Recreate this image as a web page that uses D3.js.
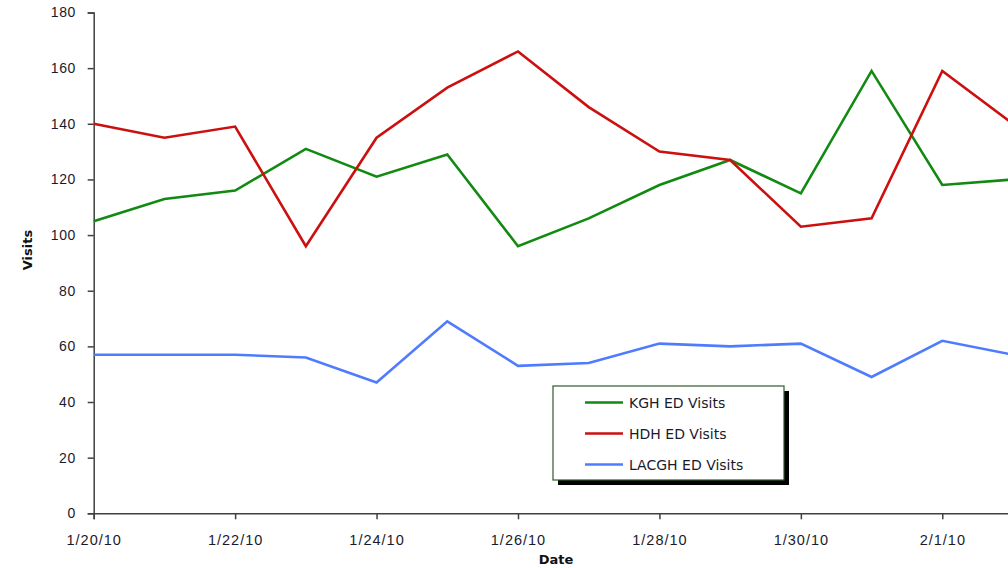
<!DOCTYPE html>
<html>
<head>
<meta charset="utf-8">
<script src="https://cdn.jsdelivr.net/npm/d3@7"></script>
<style>
  body { margin: 0; background: #fff; }
  svg { display: block; font-family: "DejaVu Sans", Verdana, sans-serif; }
  .axis path, .axis line { stroke: #404040; stroke-width: 1.5; }
  .axis text { fill: #1a1a2e; }
</style>
</head>
<body>
<div id="chart"></div>
<script>
// chart values
const dates = ["2010-01-20", "2010-01-21", "2010-01-22", "2010-01-23", "2010-01-24", "2010-01-25", "2010-01-26",
               "2010-01-27", "2010-01-28", "2010-01-29", "2010-01-30", "2010-01-31", "2010-02-01", "2010-02-02"];
const kghVisits   = [105, 113, 116, 131, 121, 129, 96, 106, 118, 127, 115, 159, 118, 120];
const hdhVisits   = [140, 135, 139, 96, 135, 153, 166, 146, 130, 127, 103, 106, 159, 140];
const lacghVisits = [57, 57, 57, 56, 47, 69, 53, 54, 61, 60, 61, 49, 62, 57];
const seriesNames = ["KGH ED Visits", "HDH ED Visits", "LACGH ED Visits"];
const seriesColors = ["#128a12", "#cc1010", "#4f7cff"];
const yTicks = [0, 20, 40, 60, 80, 100, 120, 140, 160, 180];
const xTickDates = ["2010-01-20", "2010-01-22", "2010-01-24", "2010-01-26", "2010-01-28", "2010-01-30", "2010-02-01"];

const svgWidth = 1008, svgHeight = 568;
// plot box; the right end runs past the window like in the original
const margin = { top: 12.5, left: 93.7 };
const plotRight = 1013, plotBottom = 513.3;

const parseDate = d3.timeParse("%Y-%m-%d");
const dateList = dates.map(parseDate);

const svg = d3.select("#chart")
    .append("svg")
    .attr("width", svgWidth)
    .attr("height", svgHeight);

const x = d3.scaleTime()
    .domain(d3.extent(dateList))
    .range([margin.left, plotRight]);

const y = d3.scaleLinear()
    .domain([0, 180])
    .range([plotBottom, margin.top]);

// axes
svg.append("g")
    .attr("class", "axis axis-y")
    .attr("transform", `translate(${margin.left},0)`)
    .call(d3.axisLeft(y).tickValues(yTicks).tickSizeOuter(0).tickSize(6).tickPadding(12))
    .call(g => g.selectAll("text").attr("font-size", "14px").style("letter-spacing", "0.5px"));

svg.append("g")
    .attr("class", "axis axis-x")
    .attr("transform", `translate(0,${plotBottom})`)
    .call(d3.axisBottom(x)
        .tickValues(xTickDates.map(parseDate))
        .tickFormat(d3.timeFormat("%-m/%-d/%y"))
        .tickSizeOuter(0).tickSize(6).tickPadding(15))
    .call(g => g.selectAll("text").attr("font-size", "14.5px").style("letter-spacing", "1px"));

// lines
const allSeries = [kghVisits, hdhVisits, lacghVisits];
const line = d3.line()
    .x((d, i) => x(dateList[i]))
    .y(d => y(d));

allSeries.forEach(function (vals, k) {
    svg.append("path")
        .datum(vals)
        .attr("fill", "none")
        .attr("stroke", seriesColors[k])
        .attr("stroke-width", 2.6)
        .attr("stroke-linejoin", "miter")
        .attr("d", line);
});

// axis titles
svg.append("text")
    .text("Date")
    .attr("x", 556)
    .attr("y", 564)
    .attr("text-anchor", "middle")
    .attr("font-size", "13px")
    .attr("font-weight", "bold")
    .attr("fill", "#111");

svg.append("text")
    .text("Visits")
    .attr("transform", "translate(32,250) rotate(-90)")
    .attr("text-anchor", "middle")
    .attr("font-size", "13px")
    .attr("font-weight", "bold")
    .attr("fill", "#111");

// legend with drop shadow
const legend = svg.append("g").attr("transform", "translate(553,386)");
legend.append("rect")
    .attr("x", 5).attr("y", 5)
    .attr("width", 231).attr("height", 94)
    .attr("fill", "#000");
legend.append("rect")
    .attr("width", 231).attr("height", 94)
    .attr("fill", "#fff")
    .attr("stroke", "#2d5a2d")
    .attr("stroke-width", 1.2);

seriesNames.forEach(function (name, k) {
    const row = legend.append("g").attr("transform", `translate(0,${16.5 + k * 31})`);
    row.append("line")
        .attr("x1", 32).attr("x2", 70)
        .attr("y1", 0).attr("y2", 0)
        .attr("stroke", seriesColors[k])
        .attr("stroke-width", 2.6);
    row.append("text")
        .text(name)
        .attr("x", 76)
        .attr("y", 5)
        .attr("font-size", "14px")
        .attr("fill", "#1a1a2e");
});
</script>
</body>
</html>
